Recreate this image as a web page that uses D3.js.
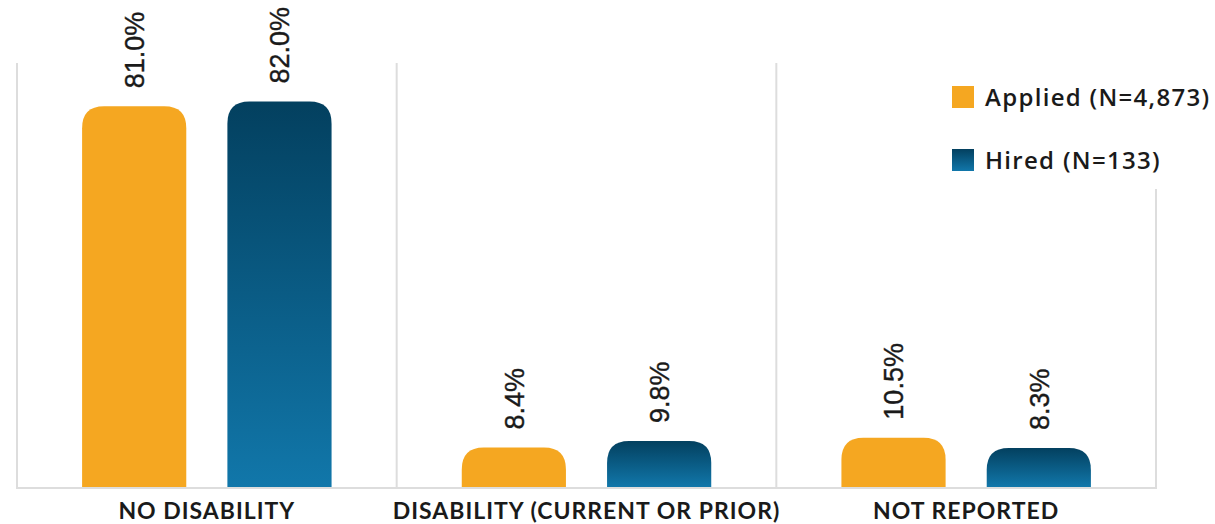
<!DOCTYPE html>
<html>
<head>
<meta charset="utf-8">
<script src="https://cdn.jsdelivr.net/npm/d3@7"></script>
<style>
  html, body { margin: 0; padding: 0; background: #ffffff; }
  svg { display: block; }
</style>
</head>
<body>
<svg id="chart" width="1215" height="524"></svg>
<script>
const categories = ["NO DISABILITY", "DISABILITY (CURRENT OR PRIOR)", "NOT REPORTED"];
const seriesNames = ["Applied (N=4,873)", "Hired (N=133)"];
const appliedValues = [81.0, 8.4, 10.5];
const hiredValues = [82.0, 9.8, 8.3];

const svg = d3.select("#chart");
const baseY = 487, left = 17, right = 1156;

const defs = svg.append("defs");
const grad = defs.append("linearGradient").attr("id", "blueGrad")
  .attr("x1", 0).attr("y1", 0).attr("x2", 0).attr("y2", 1);
grad.append("stop").attr("offset", "0%").attr("stop-color", "#03405f");
grad.append("stop").attr("offset", "100%").attr("stop-color", "#1177aa");

const colors = ["#f5a721", "url(#blueGrad)"];

const x0 = d3.scaleBand().domain(categories).range([left, right]).padding(0);
const x1 = d3.scaleBand().domain(seriesNames).range([0, x0.bandwidth()])
  .paddingInner(0.283).paddingOuter(0.448);
const y = d3.scaleLinear().domain([0, 100]).range([baseY, 17]);

// separators
const sepX = categories.map(c => x0(c)).concat([x0(categories[categories.length - 1]) + x0.bandwidth()]);
svg.append("g").selectAll("line").data(sepX).join("line")
  .attr("x1", d => d).attr("x2", d => d)
  .attr("y1", (d, i) => i === sepX.length - 1 ? 189 : 63)
  .attr("y2", baseY + 1)
  .attr("stroke", "#dddddd").attr("stroke-width", 2);
svg.append("line").attr("x1", left - 1).attr("x2", right + 1)
  .attr("y1", baseY + 1).attr("y2", baseY + 1)
  .attr("stroke", "#dddddd").attr("stroke-width", 2);

function topRounded(x, yTop, w, h, r) {
  r = Math.min(r, h, w / 2);
  return `M${x},${yTop + h} L${x},${yTop + r} Q${x},${yTop} ${x + r},${yTop} L${x + w - r},${yTop} Q${x + w},${yTop} ${x + w},${yTop + r} L${x + w},${yTop + h} Z`;
}

const data = [];
categories.forEach((c, i) => {
  data.push({ cat: c, s: 0, v: appliedValues[i] });
  data.push({ cat: c, s: 1, v: hiredValues[i] });
});

svg.append("g").selectAll("path").data(data).join("path")
  .attr("d", d => {
    const bx = x0(d.cat) + x1(seriesNames[d.s]);
    const yt = y(d.v);
    return topRounded(bx, yt, x1.bandwidth(), baseY - yt, 22);
  })
  .attr("fill", d => colors[d.s]);

svg.append("g").selectAll("text").data(data).join("text")
  .attr("transform", d => {
    const cx = x0(d.cat) + x1(seriesNames[d.s]) + x1.bandwidth() / 2;
    return `translate(${cx},${y(d.v) - 18}) rotate(-90)`;
  })
  .attr("dy", "0.36em")
  .attr("text-anchor", "start")
  .attr("font-family", "'Liberation Sans', Arial, sans-serif")
  .attr("font-size", 27)
  .attr("stroke", "#1a1a1a")
  .attr("stroke-width", 0.4)
  .attr("fill", "#1a1a1a")
  .text(d => d.v.toFixed(1) + "%");

// category labels
svg.append("g").selectAll("text").data(categories).join("text")
  .attr("x", d => x0(d) + x0.bandwidth() / 2)
  .attr("y", 519)
  .attr("text-anchor", "middle")
  .attr("font-family", "Lato, sans-serif")
  .attr("font-weight", 700)
  .attr("font-size", 23)
  .attr("letter-spacing", "1px")
  .attr("fill", "#1a1a1a")
  .text(d => d);

// legend
const lg = svg.append("g").selectAll("g").data(seriesNames).join("g")
  .attr("transform", (d, i) => `translate(952,${86 + i * 63})`);
lg.append("rect").attr("width", 22).attr("height", 22)
  .attr("fill", (d, i) => colors[i]);
lg.append("text").attr("x", 33).attr("y", 19.5)
  .attr("font-family", "'Open Sans', sans-serif")
  .attr("font-weight", 600)
  .attr("font-size", 24)
  .attr("letter-spacing", "1.3px")
  .attr("fill", "#1a1a1a")
  .text(d => d);
</script>
</body>
</html>
